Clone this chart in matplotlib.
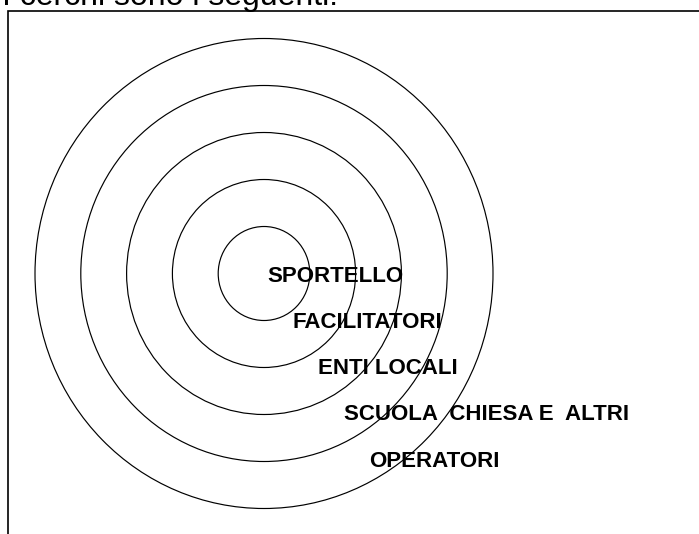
import matplotlib.pyplot as plt
from matplotlib.patches import Ellipse

# rings from the centre outwards, one label per ring
levels = [1, 2, 3, 4, 5]
labels = ["SPORTELLO", "FACILITATORI", "ENTI LOCALI",
          "SCUOLA  CHIESA E  ALTRI", "OPERATORI"]
title = "I cerchi sono i seguenti:"

W, H = 699, 534
fig = plt.figure(figsize=(W / 100, H / 100), dpi=100)
ax = fig.add_axes([0, 0, 1, 1])
ax.set_xlim(0, W)
ax.set_ylim(H, 0)
ax.axis('off')

cx, cy = 264, 273.5
rx, ry = 45.8, 47.0

for lv in levels:
    ax.add_patch(Ellipse((cx, cy), 2 * rx * lv, 2 * ry * lv,
                         fill=False, edgecolor='black', lw=0.85))

for i, lab in enumerate(labels):
    ax.text(267.5 + 25.4 * i, 276 + 46.3 * i, lab, fontsize=16,
            fontweight='bold', family='Liberation Sans',
            ha='left', va='center', color='black')

# frame (left and top edges only are visible)
ax.plot([8, 8, W], [H, 10.5, 10.5], color='black', lw=1.2,
        solid_joinstyle='miter')

# heading sits partly above the top edge, as in the original
ax.text(2, 5.5, title, fontsize=23, family='Liberation Sans',
        ha='left', va='baseline', color='black')

fig.savefig('out.png', dpi=100)
